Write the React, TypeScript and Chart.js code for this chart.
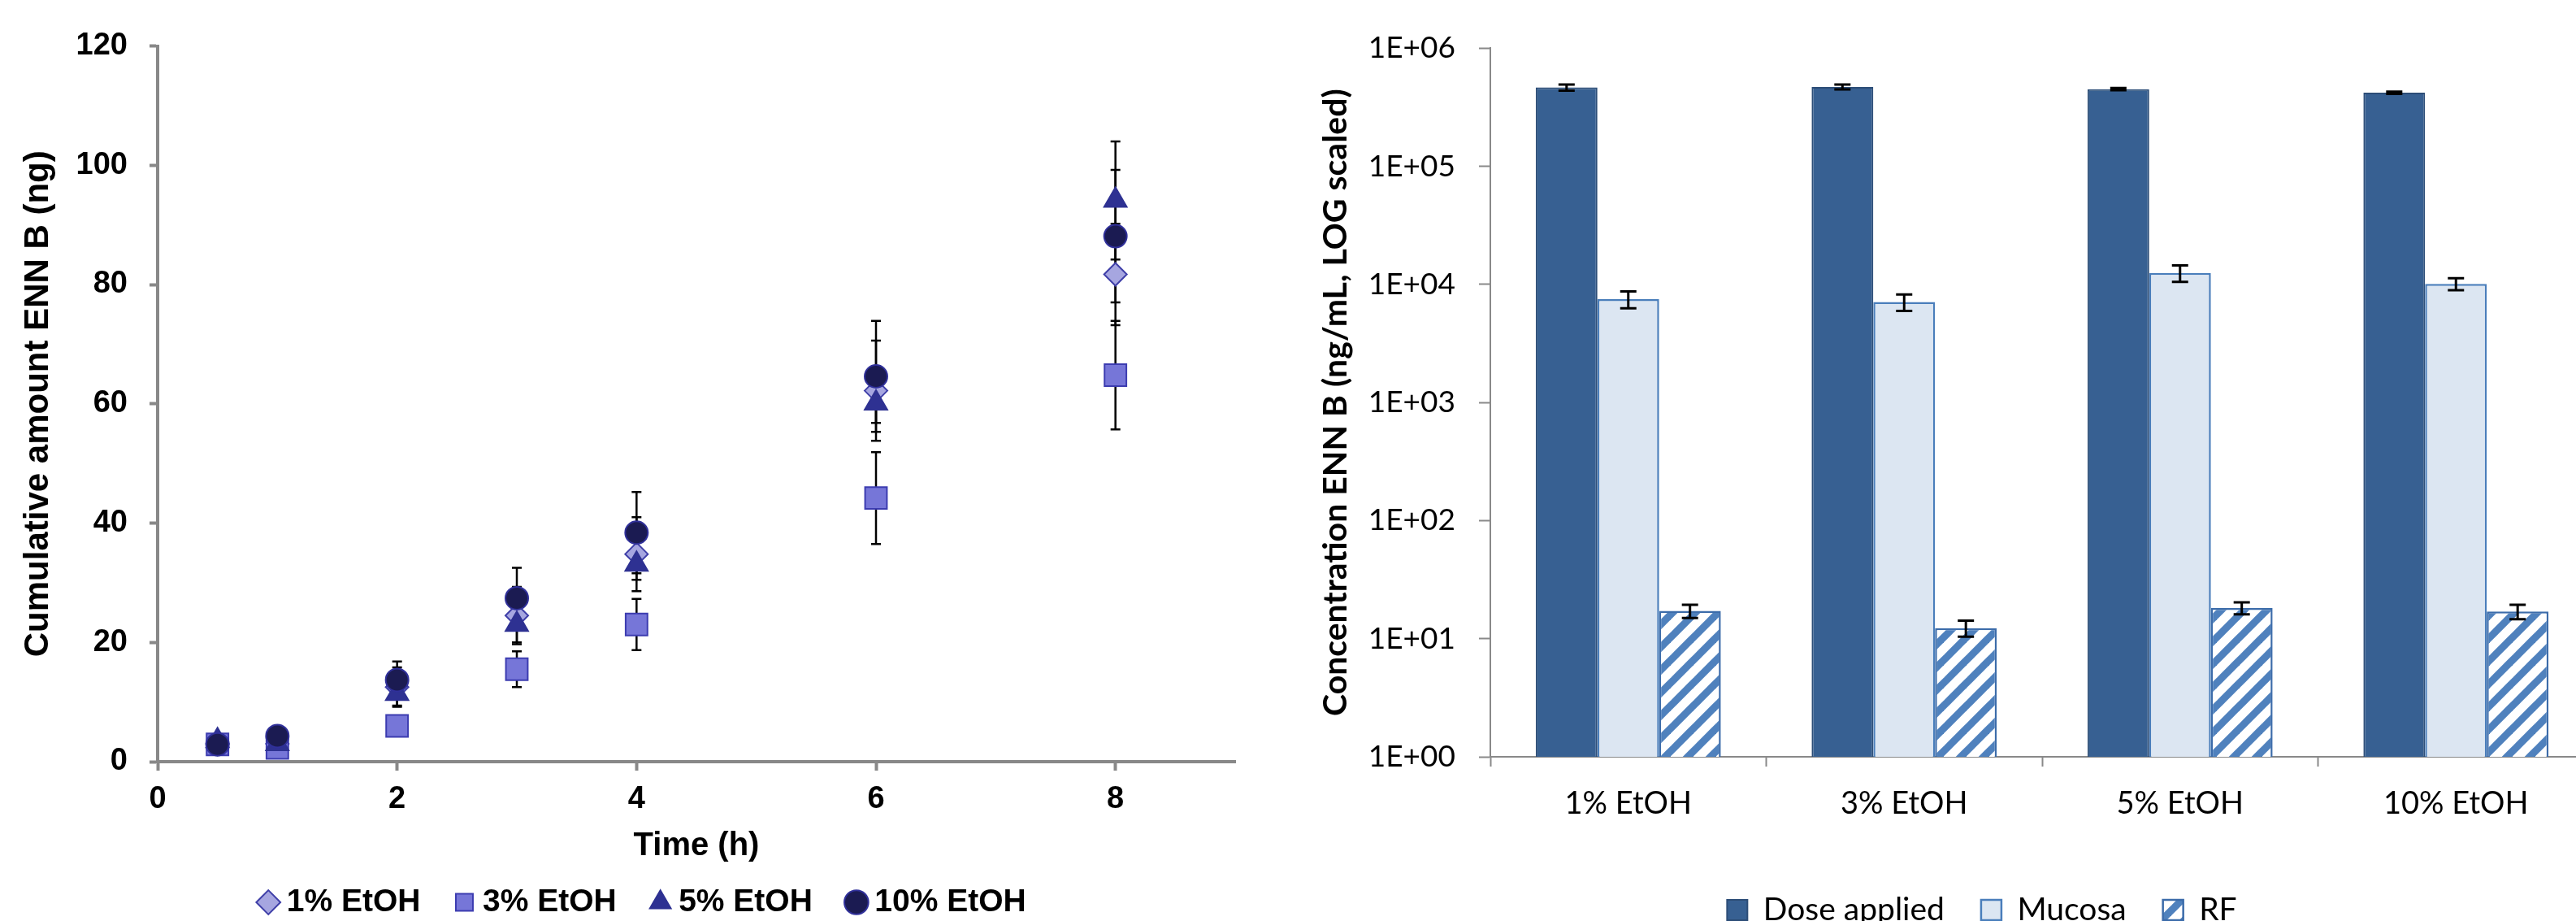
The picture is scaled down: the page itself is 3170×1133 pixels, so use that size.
import React, { useEffect, useRef } from 'react';
import { Chart, registerables } from 'chart.js';

Chart.register(...registerables);

// ---------- Left chart data (cumulative amount ENN B, ng) ----------
const times = [0.5, 1, 2, 3, 4, 6, 8];
const seriesLabels = ['1% EtOH', '3% EtOH', '5% EtOH', '10% EtOH'];
const etoh1 = [3.0, 3.0, 12.5, 24.5, 34.8, 62.2, 81.7];
const etoh1Err = [0.5, 0.8, 3.3, 4.8, 6.2, 8.4, 8.5];
const etoh3 = [2.9, 2.3, 6.0, 15.5, 23.0, 44.2, 64.8];
const etoh3Err = [0.5, 0.6, 1.0, 3.0, 4.3, 7.7, 9.1];
const etoh5 = [3.5, 3.0, 11.4, 23.0, 33.1, 60.1, 94.1];
const etoh5Err = [0.6, 0.8, 2.0, 3.0, 2.6, 3.3, 9.9];
const etoh10 = [2.9, 4.3, 13.7, 27.4, 38.4, 64.6, 88.1];
const etoh10Err = [0.5, 0.9, 3.1, 5.1, 6.8, 9.3, 11.1];
const leftXTicks = [0, 2, 4, 6, 8];
const leftYTicks = [0, 20, 40, 60, 80, 100, 120];

// ---------- Right chart data (concentration ENN B, ng/mL) ----------
const categories = ['1% EtOH', '3% EtOH', '5% EtOH', '10% EtOH'];
const barLabels = ['Dose applied', 'Mucosa', 'RF'];
const doseApplied = [465000, 470000, 450000, 420000];
const doseErr = [28000, 22000, 10000, 9000];
const mucosa = [7500, 7100, 12500, 10100];
const mucosaErr = [1230, 1130, 2000, 1170];
const rf = [17.2, 12.3, 18.2, 17.0];
const rfErr = [2.2, 1.9, 2.1, 2.4];
const logTicks = [1, 10, 100, 1000, 10000, 100000, 1000000];

const ARIAL = "'Liberation Sans', Arial, sans-serif";
const CALIBRI = "Lato, 'Noto Sans', sans-serif";

function makeErrorPlugin(errs: number[][], phase: 'before' | 'after', capHalf: number, lw: number) {
  const hook = phase === 'before' ? 'beforeDatasetsDraw' : 'afterDatasetsDraw';
  return {
    id: 'errorBars' + phase,
    [hook](chart: any) {
      const ctx = chart.ctx;
      const yScale = chart.scales.y;
      ctx.save();
      ctx.strokeStyle = '#000';
      ctx.lineWidth = lw;
      chart.data.datasets.forEach((ds: any, di: number) => {
        const e = errs[di];
        if (!e) return;
        const meta = chart.getDatasetMeta(di);
        meta.data.forEach((el: any, i: number) => {
          const raw = ds.data[i];
          const v = typeof raw === 'number' ? raw : raw.y;
          const x = el.x;
          const yTop = yScale.getPixelForValue(v + e[i]);
          const yBot = yScale.getPixelForValue(v - e[i]);
          ctx.beginPath();
          ctx.moveTo(x, yTop);
          ctx.lineTo(x, yBot);
          ctx.moveTo(x - capHalf, yTop);
          ctx.lineTo(x + capHalf, yTop);
          ctx.moveTo(x - capHalf, yBot);
          ctx.lineTo(x + capHalf, yBot);
          ctx.stroke();
        });
      });
      ctx.restore();
    },
  };
}

function makeHatch(): CanvasPattern | string {
  const s = 28;
  const c = document.createElement('canvas');
  c.width = s;
  c.height = s;
  const g = c.getContext('2d');
  if (!g) return '#4F81BD';
  g.fillStyle = '#ffffff';
  g.fillRect(0, 0, s, s);
  g.strokeStyle = '#4F81BD';
  g.lineWidth = 9;
  for (const k of [-1, 0, 1]) {
    const cst = s + k * s;
    g.beginPath();
    g.moveTo(-s, cst + s);
    g.lineTo(2 * s, cst - 2 * s);
    g.stroke();
  }
  const p = g.createPattern(c, 'repeat');
  return p || '#4F81BD';
}

export default function App() {
  const leftRef = useRef<HTMLCanvasElement>(null);
  const rightRef = useRef<HTMLCanvasElement>(null);

  useEffect(() => {
    const toPts = (arr: number[]) => times.map((t, i) => ({ x: t, y: arr[i] }));
    const leftChart = new Chart(leftRef.current as HTMLCanvasElement, {
      type: 'scatter',
      data: {
        datasets: [
          { label: seriesLabels[0], data: toPts(etoh1), pointStyle: 'rectRot', pointRadius: 14, backgroundColor: '#A6A6E0', borderColor: '#3F3FA8', borderWidth: 2, order: 4 },
          { label: seriesLabels[1], data: toPts(etoh3), pointStyle: 'rect', pointRadius: 19, backgroundColor: '#7676D8', borderColor: '#3C3CB0', borderWidth: 2, order: 3 },
          { label: seriesLabels[2], data: toPts(etoh5), pointStyle: 'triangle', pointRadius: 16, backgroundColor: '#2E3192', borderColor: '#2E3192', borderWidth: 2, order: 2 },
          { label: seriesLabels[3], data: toPts(etoh10), pointStyle: 'circle', pointRadius: 14, backgroundColor: '#1B1B52', borderColor: '#30309A', borderWidth: 2, order: 1 },
        ] as any,
      },
      options: {
        animation: false,
        responsive: false,
        events: [],
        layout: { padding: { left: 70, right: 50, top: 56.5, bottom: 20.5 } },
        plugins: {
          tooltip: { enabled: false },
          legend: {
            position: 'bottom',
            labels: {
              usePointStyle: true,
              boxWidth: 6,
              boxHeight: 21,
              padding: 51,
              color: '#000',
              font: { family: ARIAL, weight: 'bold', size: 39 },
              sort: (a: any, b: any) => a.datasetIndex - b.datasetIndex,
            },
          },
        },
        scales: {
          x: {
            type: 'linear',
            min: 0,
            max: 9,
            afterBuildTicks: (s: any) => { s.ticks = leftXTicks.map((v) => ({ value: v })); },
            afterFit: (s: any) => { s.height = 102.5; },
            grid: { display: true, drawOnChartArea: false, drawTicks: true, tickLength: 11, tickColor: '#888888', tickWidth: 4 },
            border: { display: true, color: '#888888', width: 4 },
            ticks: { color: '#000', padding: 13.2, font: { family: ARIAL, weight: 'bold', size: 38 } },
            title: { display: true, text: 'Time (h)', color: '#000', padding: { top: 0, bottom: -25.5 }, font: { family: ARIAL, weight: 'bold', size: 40 } },
          },
          y: {
            type: 'linear',
            min: 0,
            max: 120,
            afterBuildTicks: (s: any) => { s.ticks = leftYTicks.map((v) => ({ value: v })); },
            afterFit: (s: any) => { s.width = 124; },
            grid: { display: true, drawOnChartArea: false, drawTicks: true, tickLength: 10, tickColor: '#888888', tickWidth: 4 },
            border: { display: true, color: '#888888', width: 4 },
            ticks: { color: '#000', padding: 27, font: { family: ARIAL, weight: 'bold', size: 38 } },
            title: { display: true, text: 'Cumulative amount ENN B (ng)', color: '#000', padding: { top: -48.2, bottom: 0 }, font: { family: ARIAL, weight: 'bold', size: 42 } },
          },
        },
      } as any,
      plugins: [makeErrorPlugin([etoh1Err, etoh3Err, etoh5Err, etoh10Err], 'before', 6, 2.5)],
    });

    const hatch = makeHatch();
    const rightChart = new Chart(rightRef.current as HTMLCanvasElement, {
      type: 'bar',
      data: {
        labels: categories,
        datasets: [
          { label: barLabels[0], data: doseApplied, backgroundColor: '#376092', borderColor: '#2C4D77', borderWidth: 2 },
          { label: barLabels[1], data: mucosa, backgroundColor: '#DCE6F2', borderColor: '#4A7EBB', borderWidth: 2.5 },
          { label: barLabels[2], data: rf, backgroundColor: hatch, borderColor: '#3C6CAA', borderWidth: 2.5 },
        ] as any,
      },
      options: {
        animation: false,
        responsive: false,
        events: [],
        datasets: { bar: { categoryPercentage: 0.671, barPercentage: 1 } },
        layout: { padding: { left: 106, right: 20, top: 59.3, bottom: 11 } },
        plugins: {
          tooltip: { enabled: false },
          legend: {
            position: 'bottom',
            labels: {
              boxWidth: 25,
              boxHeight: 25,
              padding: 45,
              color: '#000',
              font: { family: CALIBRI, size: 39 },
            },
          },
        },
        scales: {
          x: {
            afterFit: (s: any) => { s.height = 124; },
            grid: { display: true, offset: true, drawOnChartArea: false, drawTicks: true, tickLength: 12, tickColor: '#898989', tickWidth: 2 },
            border: { display: true, color: '#898989', width: 2 },
            ticks: { color: '#000', padding: 23.2, font: { family: CALIBRI, size: 38 } },
          },
          y: {
            type: 'logarithmic',
            min: 1,
            max: 1000000,
            afterBuildTicks: (s: any) => { s.ticks = logTicks.map((v) => ({ value: v })); },
            afterFit: (s: any) => { s.width = 148; },
            grid: { display: true, drawOnChartArea: false, drawTicks: true, tickLength: 14, tickColor: '#898989', tickWidth: 2 },
            border: { display: true, color: '#898989', width: 2 },
            ticks: {
              color: '#000',
              padding: 29,
              font: { family: CALIBRI, size: 37 },
              callback: (v: any) => {
                const e = Math.round(Math.log10(Number(v)));
                return '1E+' + String(e).padStart(2, '0');
              },
            },
            title: { display: true, text: 'Concentration ENN B (ng/mL, LOG scaled)', color: '#000', padding: { top: -66.6, bottom: 0 }, font: { family: CALIBRI, weight: 'bold', size: 41 } },
          },
        },
      } as any,
      plugins: [makeErrorPlugin([doseErr, mucosaErr, rfErr], 'after', 10, 3)],
    });

    return () => {
      leftChart.destroy();
      rightChart.destroy();
    };
  }, []);

  return (
    <div style={{ position: 'fixed', left: 0, top: 0, width: 3170, height: 1133, overflow: 'hidden', background: '#fff' }}>
      <canvas ref={leftRef} width={1570} height={1160} style={{ position: 'absolute', left: 0, top: 0, width: 1570, height: 1160 }} />
      <canvas ref={rightRef} width={1632} height={1160} style={{ position: 'absolute', left: 1580, top: 0, width: 1632, height: 1160 }} />
    </div>
  );
}
